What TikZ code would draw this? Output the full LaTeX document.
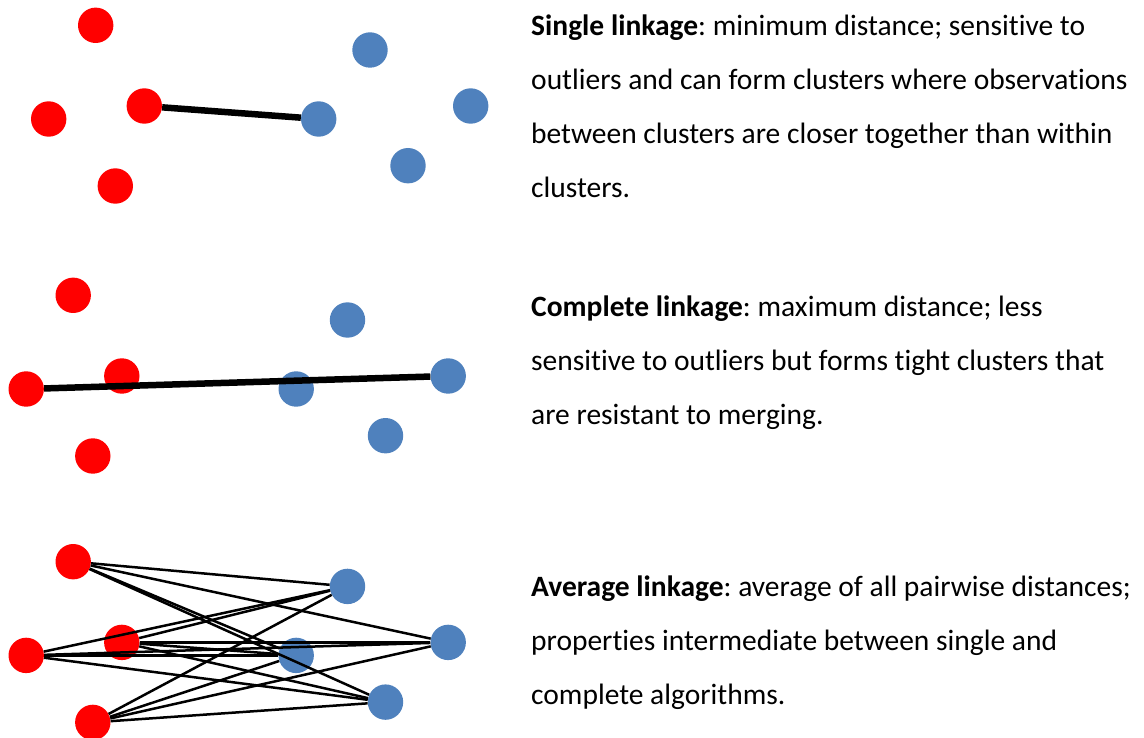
\documentclass[tikz,border=0pt]{standalone}
\usepackage{fontspec}
\setmainfont{Carlito}[Ligatures=NoCommon]
\usetikzlibrary{positioning}
\frenchspacing

\definecolor{dotred}{HTML}{FF0000}
\definecolor{dotblue}{HTML}{4F81BD}

% the eight points of one panel
\newcommand{\clusterpoints}{%
  \node[rdot] (r1) at (95.7,25.3) {};
  \node[rdot] (r2) at (48.7,119)  {};
  \node[rdot] (r3) at (144.3,106) {};
  \node[rdot] (r4) at (115.3,186) {};
  \node[bdot] (b1) at (370,50)    {};
  \node[bdot] (b2) at (470.7,106) {};
  \node[bdot] (b3) at (318.7,119) {};
  \node[bdot] (b4) at (408,165.7) {};
}

\begin{document}
\begin{tikzpicture}[
  x=1pt, y=-1pt,
  rdot/.style={circle, fill=dotred, minimum size=35.4pt, inner sep=0pt},
  bdot/.style={circle, fill=dotblue, minimum size=35.4pt, inner sep=0pt},
  link/.style={line width=6.5pt},
  thinlink/.style={line width=2.5pt},
  desc/.style={anchor=base west, inner sep=0pt, align=left,
    font=\fontsize{29.5}{54}\selectfont}
]
  \useasboundingbox (0,0) rectangle (1144,738);

  \begin{scope}[name prefix=s-]
    \clusterpoints
    \draw[link] (r3) -- (b3);
  \end{scope}

  \begin{scope}[name prefix=c-, shift={(-22.5,270)}]
    \clusterpoints
    \draw[link] (r2) -- (b2);
  \end{scope}

  \begin{scope}[name prefix=a-, shift={(-22.5,536.4)}]
    \clusterpoints
    \foreach \r in {r1,r2,r3,r4}
      \foreach \b in {b1,b2,b3,b4}
        \draw[thinlink] (\r) -- (\b);
  \end{scope}

  % base anchor sits on the last line
  \node[desc] (single) at (531,198)
    {\textbf{Single linkage}: minimum distance; sensitive to\\
     outliers and can form clusters where observations\\
     between clusters are closer together than within\\
     clusters.};
  \node[desc] (complete) at (531,424)
    {\textbf{Complete linkage}: maximum distance; less\\
     sensitive to outliers but forms tight clusters that\\
     are resistant to merging.};
  \node[desc] (average) at (531,704)
    {\textbf{Average linkage}: average of all pairwise distances;\\
     properties intermediate between single and\\
     complete algorithms.};
\end{tikzpicture}
\end{document}
